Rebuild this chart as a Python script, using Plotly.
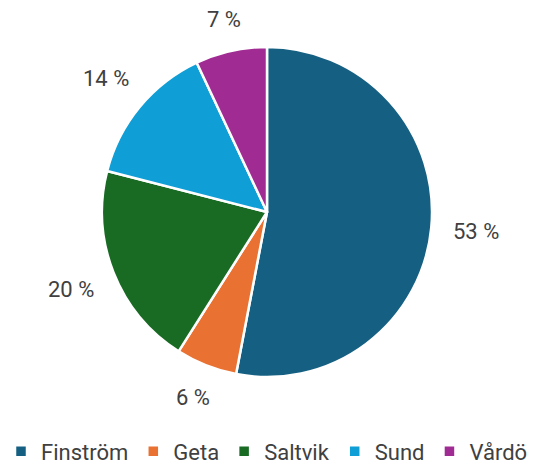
import math
import plotly.graph_objects as go

categories = ["Finström", "Geta", "Saltvik", "Sund", "Vårdö"]
values = [53, 6, 20, 14, 7]
colors = ["#156082", "#E97132", "#196B24", "#0F9ED5", "#A02B93"]

W, H = 534, 466
cx, cy, R = 267, 212, 165
font_family = "Roboto, Inter, sans-serif"
text_color = "#404040"
label_size = 22
gap = 20

fig = go.Figure(go.Pie(
    labels=categories, values=values, sort=False, direction="clockwise",
    rotation=0, marker=dict(colors=colors, line=dict(color="white", width=2.5)),
    textinfo="none", hoverinfo="label+percent",
    domain=dict(x=[(cx - R) / W, (cx + R) / W], y=[1 - (cy + R) / H, 1 - (cy - R) / H]),
))

total = sum(values)
cum = 0
for v in values:
    mid = (cum + v / 2) / total * 2 * math.pi
    cum += v
    text = f"{round(v / total * 100)} %"
    dx, dy = math.sin(mid), -math.cos(mid)
    half_w = len(text) * label_size * 0.55 / 2
    half_h = label_size * 0.8 / 2
    d = R + gap + abs(dx) * half_w + abs(dy) * half_h
    px = cx + d * dx
    py = cy + d * dy
    fig.add_annotation(x=px / W, y=1 - py / H, xref="paper", yref="paper",
                       xanchor="center", yanchor="middle",
                       text=text, showarrow=False,
                       font=dict(size=label_size, color=text_color, family=font_family))

fig.update_layout(
    width=W, height=H, margin=dict(l=0, r=0, t=0, b=0, autoexpand=False),
    paper_bgcolor="white", plot_bgcolor="white",
    font=dict(family=font_family, color=text_color),
    legend=dict(orientation="h", x=0.5, xanchor="center", y=-0.014, yanchor="bottom",
                font=dict(size=22, color=text_color, family=font_family),
                itemwidth=30, traceorder="normal"),
)
fig.write_html("out.html", config={"displayModeBar": False},
               post_script="document.body.style.margin='0';document.body.style.padding='0';")
